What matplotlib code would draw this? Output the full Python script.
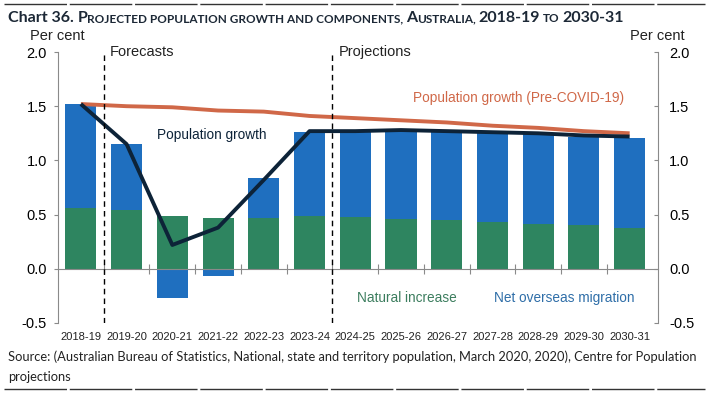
import matplotlib
matplotlib.use('Agg')
import matplotlib.pyplot as plt
import numpy as np

# data (per cent)
years = ['2018-19', '2019-20', '2020-21', '2021-22', '2022-23', '2023-24', '2024-25',
         '2025-26', '2026-27', '2027-28', '2028-29', '2029-30', '2030-31']
natural = [0.565, 0.54, 0.49, 0.465, 0.47, 0.49, 0.48, 0.46, 0.45, 0.43, 0.41, 0.40, 0.38]
nom = [0.955, 0.615, -0.27, -0.07, 0.37, 0.77, 0.78, 0.81, 0.82, 0.83, 0.835, 0.82, 0.825]
growth = [1.52, 1.15, 0.22, 0.38, 0.82, 1.27, 1.27, 1.28, 1.27, 1.26, 1.25, 1.23, 1.22]
pre_covid = [1.52, 1.50, 1.49, 1.46, 1.45, 1.41, 1.39, 1.37, 1.35, 1.32, 1.30, 1.27, 1.25]
yticks = [-0.5, 0.0, 0.5, 1.0, 1.5, 2.0]

c_ni = '#2E8560'
c_nom = '#1F6FBF'
c_growth = '#0D2338'
c_pre = '#D06848'
c_axis = '#8A8A8A'
narrow = ['Liberation Sans Narrow', 'Liberation Sans', 'DejaVu Sans']
arial = ['Liberation Sans', 'DejaVu Sans']

fig = plt.figure(figsize=(7.09, 3.93), dpi=100)
ax = fig.add_axes([58/709, 1-323/393, 600/709, 271/393])
x = np.arange(len(years))

ax.bar(x, natural, width=0.68, color=c_ni, zorder=2)
nom_bottom = [n if v > 0 else 0 for n, v in zip(natural, nom)]
ax.bar(x, nom, width=0.68, bottom=nom_bottom, color=c_nom, zorder=2)
ax.plot(x, pre_covid, color=c_pre, lw=2.8, zorder=3, solid_capstyle='butt')
ax.plot(x, growth, color=c_growth, lw=2.8, zorder=4, solid_capstyle='butt')

ax.set_xlim(-0.5, 12.62)
ax.set_ylim(-0.5, 2.0)
ax.set_yticks(yticks)
ax.set_yticklabels(['%.1f' % v for v in yticks], family=narrow, fontsize=10.5)
ax.tick_params(axis='y', direction='out', length=3, color=c_axis, pad=5)

# zero line with category boundary ticks
ax.spines['top'].set_visible(False)
ax.spines['right'].set_visible(False)
ax.spines['left'].set_color(c_axis)
ax.spines['bottom'].set_position(('data', 0))
ax.spines['bottom'].set_color(c_axis)
ax.set_xticks(np.arange(0.5, 12.5, 1))
ax.set_xticklabels([])
ax.tick_params(axis='x', direction='inout', length=7, color=c_axis)
for i, yr in enumerate(years):
    ax.text(i, -0.035, yr, transform=ax.get_xaxis_transform(), ha='center', va='top',
            family=narrow, fontsize=8, color='#222222')

ax2 = ax.twinx()
ax2.set_ylim(-0.5, 2.0)
ax2.set_yticks(yticks)
ax2.set_yticklabels(['%.1f' % v for v in yticks], family=narrow, fontsize=10.5)
ax2.tick_params(axis='y', direction='in', length=3, color=c_axis, pad=8)
for s in ['top', 'bottom', 'left']:
    ax2.spines[s].set_visible(False)
ax2.spines['right'].set_color(c_axis)

# forecast / projection dividers
for xv in [0.5, 5.5]:
    ax.axvline(xv, color='black', lw=1, ls=(0, (4, 3)), zorder=5)
ax.text(0.63, 2.0, 'Forecasts', family=narrow, fontsize=10.5, va='center', color='#222222')
ax.text(5.63, 2.0, 'Projections', family=narrow, fontsize=10.5, va='center', color='#222222')

ax.text(2.86, 1.23, 'Population growth', family=arial, fontsize=9.8, ha='center', va='center',
        color=c_growth)
ax.text(9.57, 1.575, 'Population growth (Pre-COVID-19)', family=arial, fontsize=9.8,
        ha='center', va='center', color=c_pre)
ax.text(7.12, -0.27, 'Natural increase', family=arial, fontsize=9.8, ha='center', va='center',
        color='#3C7D5E')
ax.text(10.58, -0.27, 'Net overseas migration', family=arial, fontsize=9.8, ha='center',
        va='center', color='#2F6EA8')

fig.text(30/709, 1-36/393, 'Per cent', family=narrow, fontsize=10.5, va='center', color='#222222')
fig.text(685/709, 1-36/393, 'Per cent', family=narrow, fontsize=10.5, va='center', ha='right',
         color='#222222')

# title in small caps, built run by run
title_color = '#1C2836'
runs = [('Chart 36.', 11.5), (' ', 11.5), ('P', 11.5), ('ROJECTED POPULATION GROWTH AND COMPONENTS,', 8.5),
        (' ', 8.5), ('A', 11.5), ('USTRALIA,', 8.5), (' ', 8.5), ('2018-19', 11.5), (' ', 8.5),
        ('TO', 8.5), (' ', 8.5), ('2030-31', 11.5)]
r = fig.canvas.get_renderer()
tx = 8
for txt, size in runs:
    if txt == ' ':
        tx += size * 0.32
        continue
    t = fig.text(tx/709, 1-22/393, txt, fontsize=size, family=['Lato', 'DejaVu Sans'],
                 weight='bold', color=title_color, va='baseline')
    tx += t.get_window_extent(r).width

fig.text(8/709, 1-357/393, 'Source: (Australian Bureau of Statistics, National, state and territory '
         'population, March 2020, 2020), Centre for Population', family=['Lato', 'DejaVu Sans'],
         fontsize=9.3, va='center', color='#222222')
fig.text(8/709, 1-377/393, 'projections', family=['Lato', 'DejaVu Sans'], fontsize=9.3,
         va='center', color='#222222')

# dashed rules at top and bottom of the figure
for yy in [1-4/393, 1-389/393]:
    fig.add_artist(plt.Line2D([0.005, 0.995], [yy, yy], transform=fig.transFigure,
                              color='#333333', lw=1, ls=(0, (45, 2))))

fig.savefig('out.png', dpi=100)
